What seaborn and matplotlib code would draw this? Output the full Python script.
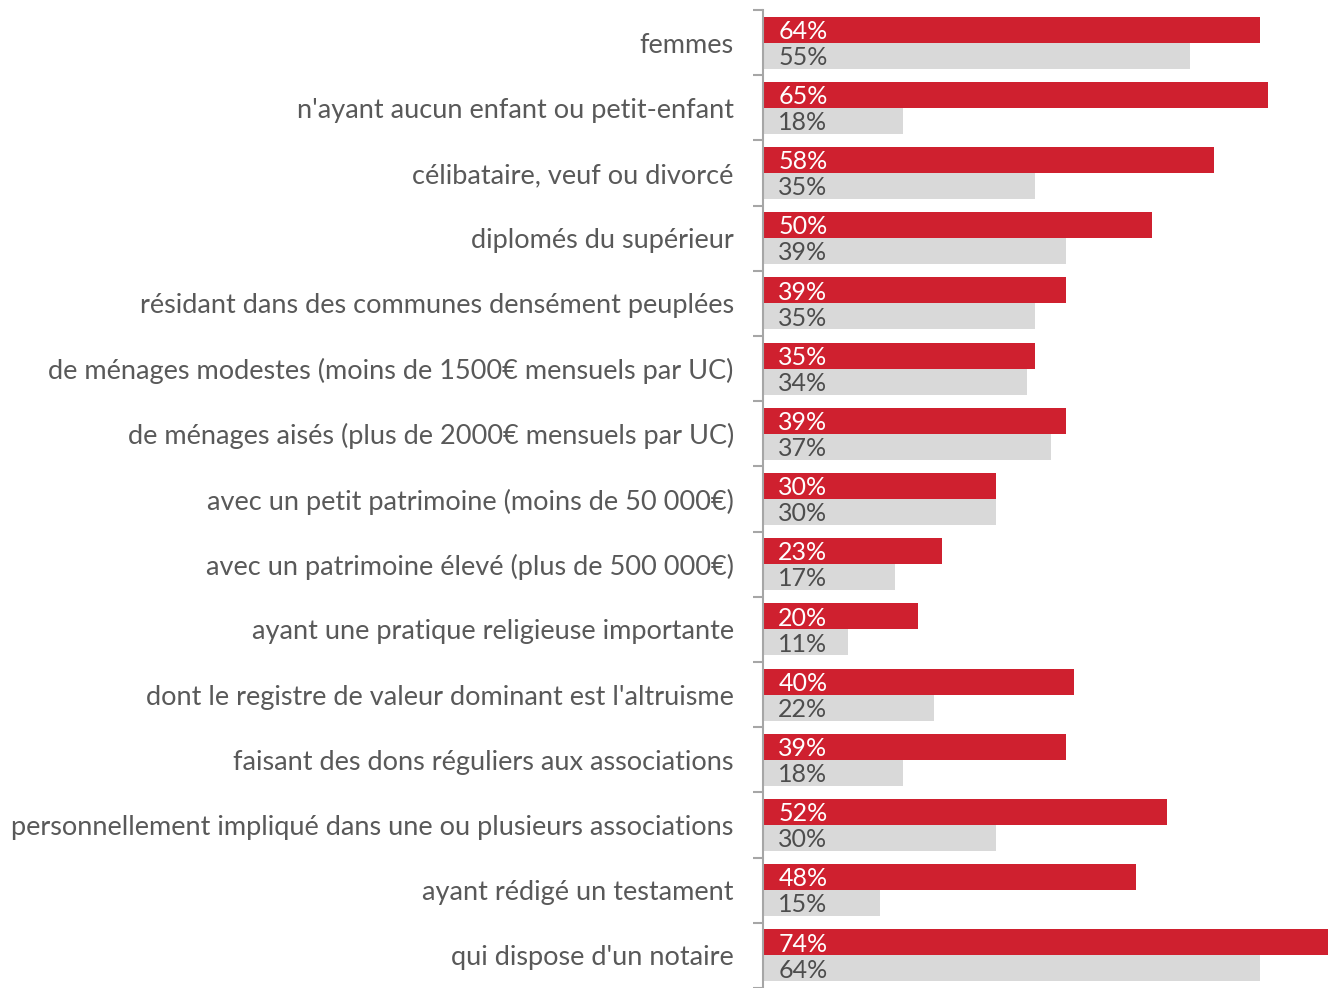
import pandas as pd
import matplotlib.pyplot as plt
import seaborn as sns

categories = [
    "femmes",
    "n'ayant aucun enfant ou petit-enfant",
    "célibataire, veuf ou divorcé",
    "diplomés du supérieur",
    "résidant dans des communes densément peuplées",
    "de ménages modestes (moins de 1500€ mensuels par UC)",
    "de ménages aisés (plus de 2000€ mensuels par UC)",
    "avec un petit patrimoine (moins de 50 000€)",
    "avec un patrimoine élevé (plus de 500 000€)",
    "ayant une pratique religieuse importante",
    "dont le registre de valeur dominant est l'altruisme",
    "faisant des dons réguliers aux associations",
    "personnellement impliqué dans une ou plusieurs associations",
    "ayant rédigé un testament",
    "qui dispose d'un notaire",
]
red_vals = [64, 65, 58, 50, 39, 35, 39, 30, 23, 20, 40, 39, 52, 48, 74]
gray_vals = [55, 18, 35, 39, 35, 34, 37, 30, 17, 11, 22, 18, 30, 15, 64]
series = ["groupe", "ensemble"]

red = '#CF202F'
gray = '#D9D9D9'
txt = '#595959'

df = pd.DataFrame({
    'cat': categories * 2,
    'val': red_vals + gray_vals,
    'serie': [series[0]] * len(categories) + [series[1]] * len(categories),
})

sns.set_theme(style='white')
plt.rcParams['font.family'] = ['Lato', 'DejaVu Sans']

fig = plt.figure(figsize=(13.28, 9.88), dpi=100)
ax = fig.add_axes([763 / 1328, 0, 1 - 763 / 1328, 1 - 10 / 988])

sns.barplot(data=df, x='val', y='cat', hue='serie', palette=[red, gray],
            orient='h', width=0.8, saturation=1, legend=False, linewidth=0, ax=ax)

ax.set_xlim(0, 72.7)
ax.set_ylim(14.39, -0.5)

# value labels at the left inside each bar
for cont, col in zip(ax.containers, ['white', '#4D4D4D']):
    for p, v in zip(cont.patches, cont.datavalues):
        ax.annotate(f'{v:.0f}%', xy=(0, p.get_y() + p.get_height() / 2),
                    xytext=(11, -1.2), textcoords='offset points',
                    ha='left', va='center', color=col, fontsize=18)

for s in ['top', 'right', 'bottom']:
    ax.spines[s].set_visible(False)
ax.spines['left'].set_color('#A6A6A6')
ax.spines['left'].set_linewidth(1.5)

ax.set_xticks([])
ax.set_xlabel('')
ax.set_ylabel('')
ax.set_yticks(range(len(categories)))
ax.set_yticklabels(categories, fontsize=19.5, color=txt)
ax.tick_params(axis='y', which='major', length=0, pad=21)
ax.set_yticks([i - 0.5 for i in range(len(categories) + 1)], minor=True)
ax.tick_params(axis='y', which='minor', length=7.2, width=1.5, color='#A6A6A6', left=True)

fig.savefig('out.png', dpi=100)
